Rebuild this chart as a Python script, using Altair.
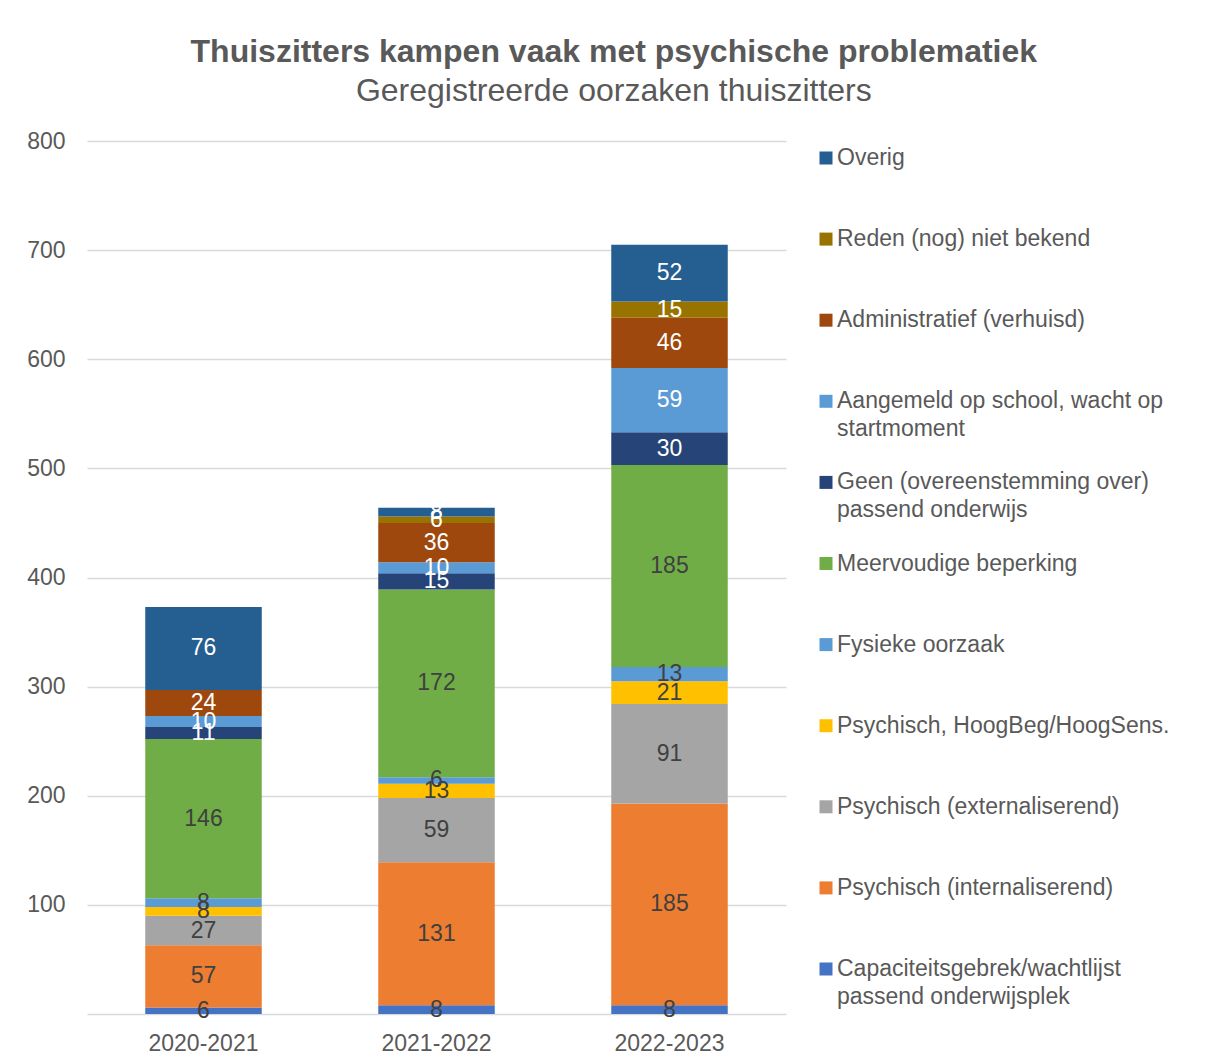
import altair as alt
import pandas as pd

years = ["2020-2021", "2021-2022", "2022-2023"]
categories = [
    "Capaciteitsgebrek/wachtlijst passend onderwijsplek",
    "Psychisch (internaliserend)",
    "Psychisch (externaliserend)",
    "Psychisch, HoogBeg/HoogSens.",
    "Fysieke oorzaak",
    "Meervoudige beperking",
    "Geen (overeenstemming over) passend onderwijs",
    "Aangemeld op school, wacht op startmoment",
    "Administratief (verhuisd)",
    "Reden (nog) niet bekend",
    "Overig",
]
legend_line1 = [
    "Capaciteitsgebrek/wachtlijst",
    "Psychisch (internaliserend)",
    "Psychisch (externaliserend)",
    "Psychisch, HoogBeg/HoogSens.",
    "Fysieke oorzaak",
    "Meervoudige beperking",
    "Geen (overeenstemming over)",
    "Aangemeld op school, wacht op",
    "Administratief (verhuisd)",
    "Reden (nog) niet bekend",
    "Overig",
]
legend_line2 = [
    "passend onderwijsplek", "", "", "", "", "",
    "passend onderwijs", "startmoment", "", "", "",
]
colors = [
    "#4472C4", "#ED7D31", "#A5A5A5", "#FFC000", "#5B9BD5", "#70AD47",
    "#264478", "#5B9BD5", "#9E480E", "#997300", "#255E91",
]
label_colors = ["#404040"] * 6 + ["#FFFFFF"] * 5

values_2020 = [6, 57, 27, 8, 8, 146, 11, 10, 24, 0, 76]
values_2021 = [8, 131, 59, 13, 6, 172, 15, 10, 36, 6, 8]
values_2022 = [8, 185, 91, 21, 13, 185, 30, 59, 46, 15, 52]

FONT = "Liberation Sans"
GREY = "#595959"
FS = 23

rows = []
for year, vals in zip(years, [values_2020, values_2021, values_2022]):
    for i, (cat, v) in enumerate(zip(categories, vals)):
        rows.append({"year": year, "cat": cat, "value": v, "o": i, "lc": label_colors[i]})
df = pd.DataFrame(rows)

color_scale = alt.Scale(domain=categories, range=colors)

base = alt.Chart(df)

bars = base.mark_bar().encode(
    x=alt.X("year:N", sort=years, title=None,
            scale=alt.Scale(paddingInner=0.5, paddingOuter=0.25),
            axis=alt.Axis(labelAngle=0, domain=False, ticks=False, tickSize=0,
                          labelPadding=18, labelFont=FONT, labelFontSize=FS,
                          labelColor=GREY)),
    y=alt.Y("value:Q", stack="zero", title=None,
            scale=alt.Scale(domain=[0, 800]),
            axis=alt.Axis(values=[0, 100, 200, 300, 400, 500, 600, 700, 800],
                          labelExpr="datum.value == 0 ? '' : datum.label",
                          domain=False, ticks=False, tickSize=0, labelPadding=22,
                          labelFont=FONT, labelFontSize=FS, labelColor=GREY,
                          gridColor="#D9D9D9", gridWidth=1.5)),
    color=alt.Color("cat:N", scale=color_scale, legend=None),
    order=alt.Order("o:Q", sort="ascending"),
)

labels = base.transform_filter("datum.value > 0").transform_stack(
    stack="value", groupby=["year"], sort=[alt.SortField("o", "ascending")], as_=["v0", "v1"]
).transform_calculate(mid="(datum.v0 + datum.v1) / 2").mark_text(
    font=FONT, fontSize=FS, baseline="middle"
).encode(
    x=alt.X("year:N", sort=years),
    y=alt.Y("mid:Q"),
    text=alt.Text("value:Q"),
    color=alt.Color("lc:N", scale=None),
)

main = (bars + labels).properties(width=699, height=873)

legdf = pd.DataFrame({"cat": categories, "l1": legend_line1, "l2": legend_line2})
leg_order = list(reversed(categories))
ly = alt.Y("cat:N", sort=leg_order, scale=alt.Scale(range=[17, 828], padding=0), axis=None)
legbase = alt.Chart(legdf)
sq = legbase.mark_square(size=169, opacity=1).encode(
    x=alt.value(7), y=ly, color=alt.Color("cat:N", scale=color_scale, legend=None)
)
t1 = legbase.mark_text(align="left", baseline="middle", font=FONT, fontSize=FS, color=GREY).encode(
    x=alt.value(18), y=ly, text="l1:N"
)
t2 = legbase.mark_text(align="left", baseline="middle", font=FONT, fontSize=FS, color=GREY, dy=28).encode(
    x=alt.value(18), y=ly, text="l2:N"
)
legend = (sq + t1 + t2).properties(width=360, height=873)

chart = alt.hconcat(main, legend, spacing=33, bounds="flush").resolve_scale(
    x="independent", y="independent"
).properties(
    title=alt.Title(
        text="Thuiszitters kampen vaak met psychische problematiek",
        subtitle="Geregistreerde oorzaken thuiszitters",
        anchor="middle", font=FONT, fontSize=32, fontWeight="bold", color=GREY,
        subtitleFont=FONT, subtitleFontSize=32, subtitleColor=GREY,
        subtitlePadding=7, offset=22, dx=11,
    ),
    padding={"left": 18, "top": 28, "right": 5, "bottom": 0},
).configure_view(stroke=None)

chart.save("out.html", embed_options={"renderer": "svg", "actions": False})
